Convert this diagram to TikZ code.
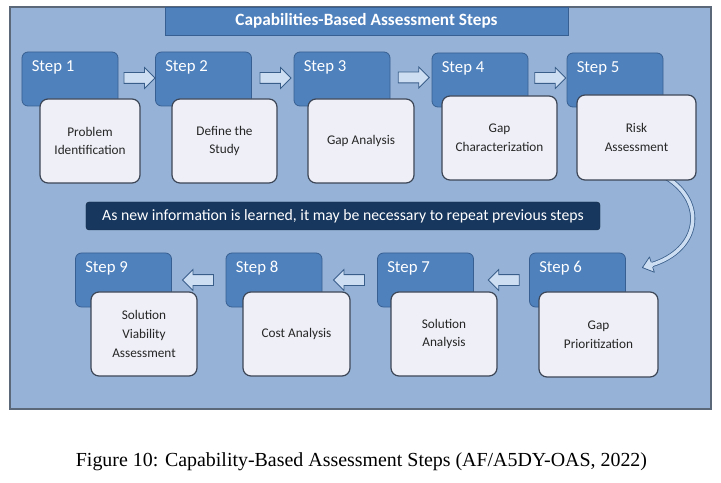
\documentclass[tikz,border=0pt]{standalone}
\usepackage{fontspec}
\setmainfont{Carlito}
\newfontfamily\capfont{Liberation Serif}
\usetikzlibrary{shapes.arrows,calc}
\pgfdeclarelayer{bg}
\pgfsetlayers{bg,main}
\definecolor{framefill}{RGB}{150,179,215}
\definecolor{frameline}{RGB}{90,104,122}
\definecolor{titlefill}{RGB}{79,129,189}
\definecolor{stepfill}{RGB}{79,129,189}
\definecolor{stepline}{RGB}{56,95,145}
\definecolor{boxfill}{RGB}{238,239,247}
\definecolor{boxline}{RGB}{60,70,86}
\definecolor{bannerfill}{RGB}{24,55,94}
\definecolor{arrowfill}{RGB}{205,222,243}
\definecolor{arrowline}{RGB}{58,94,138}
\begin{document}
\begin{tikzpicture}[x=1bp,y=-1bp,
  frame/.style={draw=frameline,line width=1.2bp,fill=framefill,minimum width=701bp,minimum height=402bp,inner sep=0},
  titlebar/.style={draw=stepline,line width=0.8bp,fill=titlefill,minimum width=403bp,minimum height=28bp,inner sep=0,text=white,font=\bfseries\fontsize{17.3}{20}\selectfont},
  stepbox/.style={draw=stepline,line width=0.8bp,fill=stepfill,rounded corners=6bp,minimum height=54bp,minimum width=96bp,inner sep=0},
  steplabel/.style={text=white,font=\fontsize{16.8}{20}\selectfont,inner sep=0,anchor=west},
  textbox/.style={draw=boxline,line width=1.2bp,fill=boxfill,rounded corners=8bp,minimum height=84bp,inner sep=0,align=center,font=\fontsize{13.3}{18.8}\selectfont,text=black!85},
  blockarrow/.style={single arrow,draw=arrowline,line width=0.8bp,fill=arrowfill,minimum width=20bp,single arrow head extend=5bp,minimum height=31bp,inner xsep=0,inner ysep=5bp,text height=0pt,text depth=0pt},
  banner/.style={fill=bannerfill,draw=bannerfill!70!black,rounded corners=3bp,minimum width=514bp,minimum height=28bp,inner sep=0,text=white,font=\fontsize{15.8}{18}\selectfont},
  caption/.style={font=\capfont\fontsize{20}{24}\selectfont,inner sep=0}]
\useasboundingbox (0,0) rectangle (721,483);
\begin{pgfonlayer}{bg}
\fill[white] (0,0) rectangle (721,483);
\node[frame] (frame) at (360.5,208) {};
\end{pgfonlayer}
\node[titlebar] (title) at (366.5,21) {Capabilities-Based Assessment Steps};

% steps top row
\node[stepbox] (s1) at (70,79) {};
\node[stepbox] (s2) at (203.5,79) {};
\node[stepbox] (s3) at (342,79) {};
\node[stepbox] (s4) at (480,80) {};
\node[stepbox] (s5) at (615,80) {};
% steps bottom row
\node[stepbox] (s6) at (577.5,280) {};
\node[stepbox] (s7) at (425.5,280) {};
\node[stepbox] (s8) at (274,280) {};
\node[stepbox] (s9) at (123.5,280) {};

% step labels
\foreach \n in {1,...,9} {
  \node[steplabel] (l\n) at ($(s\n.north west)+(10,16)$) {Step \n};
}

% text boxes
\node[textbox,minimum width=100bp] (w1) at (90,141) {Problem\\Identification};
\node[textbox,minimum width=105bp] (w2) at (224.5,141) {Define the\\Study};
\node[textbox,minimum width=106bp] (w3) at (361,141) {Gap Analysis};
\node[textbox,minimum width=115bp] (w4) at (499.5,138) {Gap\\Characterization};
\node[textbox,minimum width=119bp,minimum height=85bp] (w5) at (636.5,137.5) {Risk\\Assessment};
\node[textbox,minimum width=119bp,minimum height=85bp] (w6) at (598.5,334.5) {Gap\\Prioritization};
\node[textbox,minimum width=106bp] (w7) at (444,334) {Solution\\Analysis};
\node[textbox,minimum width=107bp] (w8) at (296.5,334) {Cost Analysis};
\node[textbox,minimum width=106bp] (w9) at (144,334) {Solution\\Viability\\Assessment};

% curved arrow from step 5 to step 6 (behind the boxes, above the frame)
\coordinate (cs) at ($(w5.south east)+(-30,-3)$);
\coordinate (ce) at ($(s6.north east)+(26,12)$);
\begin{pgfonlayer}{bg}
\draw[arrowline,line width=0.8bp,double=arrowfill,double distance=3.5bp]
  (cs) .. controls ($(cs)+(40,25)$) and ($(ce)+(48,-15)$) .. (ce);
\fill[arrowfill] ($(ce)+(2.4,7.6)$) -- ($(ce)+(-9.5,3)$) -- ($(ce)+(-2.4,-7.6)$) -- ($(ce)+(0.6,0.2)$) -- cycle;
\draw[arrowline,line width=0.8bp,line join=round] ($(ce)+(0.75,2.4)$) -- ($(ce)+(2.4,7.6)$) -- ($(ce)+(-9.5,3)$) -- ($(ce)+(-2.4,-7.6)$) -- ($(ce)+(-0.75,-2.4)$);
\end{pgfonlayer}

% block arrows
\node[blockarrow] (a12) at ($(s1.east)!0.5!(s2.west)+(0,-1)$) {};
\node[blockarrow] (a23) at ($(s2.east)!0.5!(s3.west)+(0,-1)$) {};
\node[blockarrow] (a34) at ($(s3.east)!0.5!(s4.west)+(0,-2)$) {};
\node[blockarrow] (a45) at ($(s4.east)!0.5!(s5.west)+(0,-2)$) {};
\node[blockarrow,shape border rotate=180] (a67) at ($(s7.east)!0.5!(s6.west)+(5,0)$) {};
\node[blockarrow,shape border rotate=180] (a78) at ($(s8.east)!0.5!(s7.west)+(2,0)$) {};
\node[blockarrow,shape border rotate=180] (a89) at ($(s9.east)!0.5!(s8.west)+(2,0)$) {};

% banner
\node[banner] (note) at (343,216) {As new information is learned, it may be necessary to repeat previous steps};

% caption
\node[caption] (cap) at (361.5,462) {Figure 10: Capability-Based Assessment Steps (AF/A5DY-OAS, 2022)};
\end{tikzpicture}
\end{document}
